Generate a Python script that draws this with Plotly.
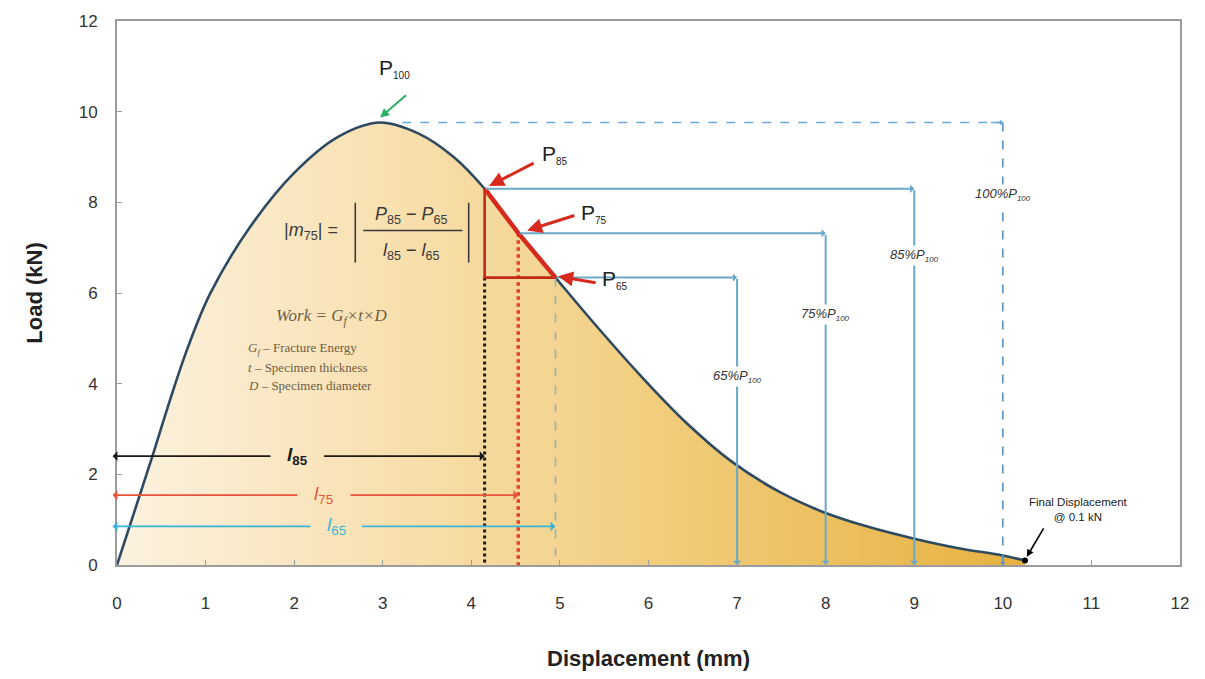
import plotly.graph_objects as go

# Load-displacement record of the fracture test
disp = [0.0, 0.2, 0.4, 0.6, 0.8, 1.05, 1.5, 2.0, 2.5, 2.97, 3.4, 3.8,
        4.15, 4.53, 4.95, 5.4, 5.9, 6.42, 6.94, 7.49, 7.97, 8.5, 9.0, 9.5, 10.0, 10.25]
load = [0.0, 1.2, 2.4, 3.65, 4.8, 5.98, 7.45, 8.65, 9.45, 9.76, 9.52, 9.0,
        8.3, 7.32, 6.34, 5.3, 4.2, 3.15, 2.28, 1.6, 1.17, 0.83, 0.58, 0.37, 0.21, 0.1]

# Peak load and post-peak reference points
peak_disp, peak_load = 2.97, 9.76
pct_levels = [85, 75, 65]
pct_disp = [4.15, 4.53, 4.95]         # l85, l75, l65
pct_load = [8.3, 7.32, 6.34]          # P85, P75, P65
drop_disp = [9, 8, 7]                 # where each level line turns down
full_drop_disp = 10                   # 100% level
final_disp, final_load = 10.25, 0.1

x_ticks = list(range(0, 13))
y_ticks = list(range(0, 13, 2))

SANS = "Liberation Sans, Arial, sans-serif"
SERIF = "Liberation Serif, Times New Roman, serif"
BLUE = "#6aa9c9"
RED = "#d62a1e"

fig = go.Figure()

# area under the curve with a horizontal colour ramp
fig.add_trace(go.Scatter(
    x=disp, y=load, mode="lines", line=dict(color="#2f4a60", width=2.6, shape="spline", smoothing=1.0),
    fill="tozeroy",
    fillgradient=dict(type="horizontal",
                      colorscale=[[0, "#fcf2e0"], [0.3, "#f8e0b0"], [0.62, "#f1cb78"], [1, "#e6b140"]]),
    hoverinfo="skip", showlegend=False))


def seg(xs, ys, color, width, dash="solid"):
    fig.add_trace(go.Scatter(x=xs, y=ys, mode="lines", line=dict(color=color, width=width, dash=dash),
                             hoverinfo="skip", showlegend=False))


annotations = []


def arrow(x0, y0, x1, y1, color, width, head=2, size=1.0):
    annotations.append(dict(x=x1, y=y1, ax=x0, ay=y0, xref="x", yref="y", axref="x", ayref="y",
                            text="", showarrow=True, arrowhead=head, arrowsize=size,
                            arrowwidth=width, arrowcolor=color))


# vertical guides from the post-peak points down to the axis
seg([pct_disp[0], pct_disp[0]], [pct_load[2], 0], "#1a1a1a", 3, "dot")
seg([pct_disp[1], pct_disp[1]], [pct_load[1], 0], "#e2402a", 3.5, "dot")
seg([pct_disp[2], pct_disp[2]], [pct_load[2], 0], "#7fb9c4", 1.5, "dash")

# 100% level (dashed)
seg([peak_disp + 0.25, full_drop_disp], [peak_load, peak_load], "#6aa8d8", 1.6, "dash")
seg([full_drop_disp, full_drop_disp], [peak_load, 0], "#5a94c8", 1.6, "dash")
arrow(full_drop_disp - 0.15, peak_load, full_drop_disp, peak_load, "#6aa8d8", 1.4, 1, 0.7)
arrow(full_drop_disp, 0.25, full_drop_disp, 0, "#5a94c8", 1.4, 1, 0.7)

# 85 / 75 / 65 % levels
for xp, yp, xd in zip(pct_disp, pct_load, drop_disp):
    arrow(xp, yp, xd, yp, BLUE, 2, 1, 0.7)
    arrow(xd, yp, xd, 0, BLUE, 2, 1, 0.7)

# slope triangle
seg([pct_disp[0], pct_disp[0], pct_disp[2]], [pct_load[0], pct_load[2], pct_load[2]], "#c0281a", 2.6)
seg(pct_disp, pct_load, RED, 4.5)

# dimension lines l85, l75, l65
dims = [
    (pct_disp[0], 2.4, "#1a1a1a", 1.75, 2.32, "<b><i>l</i><sub>85</sub></b>"),
    (pct_disp[1], 1.54, "#e8533c", 2.05, 2.62, "<i>l</i><sub>75</sub>"),
    (pct_disp[2], 0.85, "#38b4d6", 2.2, 2.75, "<i>l</i><sub>65</sub>"),
]
for xe, yy, col, g0, g1, lab in dims:
    arrow(g0, yy, -0.05, yy, col, 1.8, 1, 0.9)
    arrow(g1, yy, xe, yy, col, 1.8, 1, 0.9)
    annotations.append(dict(x=(g0 + g1) / 2, y=yy, xref="x", yref="y", text=lab, showarrow=False,
                            font=dict(family=SANS, size=19, color=col)))

# pointers to the characteristic loads
arrow(3.28, 10.39, peak_disp, 9.87, "#2bae66", 2, 2, 0.9)
arrow(4.72, 8.88, 4.2, 8.36, RED, 3, 2, 1.0)
arrow(5.18, 7.72, 4.63, 7.38, RED, 3, 2, 1.0)
arrow(5.42, 6.22, 4.98, 6.37, RED, 3, 2, 1.0)


def p_label(x, y, sub):
    annotations.append(dict(x=x, y=y, xref="x", yref="y", xanchor="left", showarrow=False,
                            text=f"P<sub><span style='font-size:10px'>{sub}</span></sub>",
                            font=dict(family=SANS, size=21, color="#222")))


p_label(2.93, 10.95, "100")
p_label(4.77, 9.05, "85")
p_label(5.22, 7.76, "75")
p_label(5.45, 6.3, "65")

# level labels on the vertical drops
lvl_y = [6.82, 5.52, 4.16]
for xd, yl, pc in zip(drop_disp, lvl_y, pct_levels):
    annotations.append(dict(x=xd, y=yl, xref="x", yref="y", showarrow=False, bgcolor="white",
                            text=f"<i>{pc}%P<sub><span style='font-size:8px'>100</span></sub></i>",
                            font=dict(family=SANS, size=13, color="#333")))
annotations.append(dict(x=full_drop_disp, y=8.18, xref="x", yref="y", showarrow=False, bgcolor="white",
                        text="<i>100%P<sub><span style='font-size:8px'>100</span></sub></i>",
                        font=dict(family=SANS, size=13, color="#333")))

# final displacement marker
fig.add_trace(go.Scatter(x=[final_disp], y=[final_load], mode="markers",
                         marker=dict(color="black", size=6), hoverinfo="skip", showlegend=False))
arrow(10.47, 0.84, final_disp + 0.02, final_load + 0.08, "black", 1.6, 2, 0.9)
annotations.append(dict(x=10.85, y=1.22, xref="x", yref="y", showarrow=False,
                        text="Final Displacement<br>@ 0.1 kN",
                        font=dict(family=SANS, size=11.5, color="#222")))

# slope formula
FCOL = "#3a3a3a"
annotations.append(dict(x=2.19, y=7.36, xref="x", yref="y", showarrow=False,
                        text="|<i>m</i><sub>75</sub>| =", font=dict(family=SANS, size=18, color=FCOL)))
annotations.append(dict(x=3.33, y=7.7, xref="x", yref="y", showarrow=False,
                        text="<i>P</i><sub>85</sub> − <i>P</i><sub>65</sub>",
                        font=dict(family=SANS, size=18, color=FCOL)))
annotations.append(dict(x=3.33, y=6.92, xref="x", yref="y", showarrow=False,
                        text="<i>l</i><sub>85</sub> − <i>l</i><sub>65</sub>",
                        font=dict(family=SANS, size=18, color=FCOL)))
seg([2.78, 3.9], [7.38, 7.38], FCOL, 1.4)
seg([2.69, 2.69], [6.67, 7.99], FCOL, 1.6)
seg([3.97, 3.97], [6.67, 7.99], FCOL, 1.6)

# work definition
WCOL = "#6e5e44"
annotations.append(dict(x=2.42, y=5.48, xref="x", yref="y", showarrow=False,
                        text="<i>Work = G<sub>f</sub>×t×D</i>",
                        font=dict(family=SERIF, size=17, color=WCOL)))
for yy, txt in [(4.77, "<i>G<sub>f</sub></i> – Fracture Energy"),
                (4.36, "<i>t</i> – Specimen thickness"),
                (3.95, "<i>D</i> – Specimen diameter")]:
    annotations.append(dict(x=1.46, y=yy, xref="x", yref="y", xanchor="left", showarrow=False,
                            text=txt, font=dict(family=SERIF, size=13, color=WCOL)))

axis_common = dict(range=[0, 12], showgrid=False, zeroline=False, showline=True, mirror=True,
                   linecolor="#9c9c9c", linewidth=2, ticks="inside", ticklen=5, tickcolor="#9c9c9c",
                   tickfont=dict(family=SANS, size=17, color="#333"))

fig.update_layout(
    width=1205, height=679,
    margin=dict(l=117, r=25, t=14, b=111),
    paper_bgcolor="white", plot_bgcolor="white",
    xaxis=dict(axis_common, tickvals=x_ticks, ticklabelstandoff=22,
               title=dict(text="<b>Displacement (mm)</b>", standoff=38,
                          font=dict(family=SANS, size=22, color="#222"))),
    yaxis=dict(axis_common, tickvals=y_ticks, ticklabelstandoff=14,
               title=dict(text="<b>Load (kN)</b>", standoff=30,
                          font=dict(family=SANS, size=22, color="#222"))),
    annotations=annotations,
)

fig.write_html("out.html")
